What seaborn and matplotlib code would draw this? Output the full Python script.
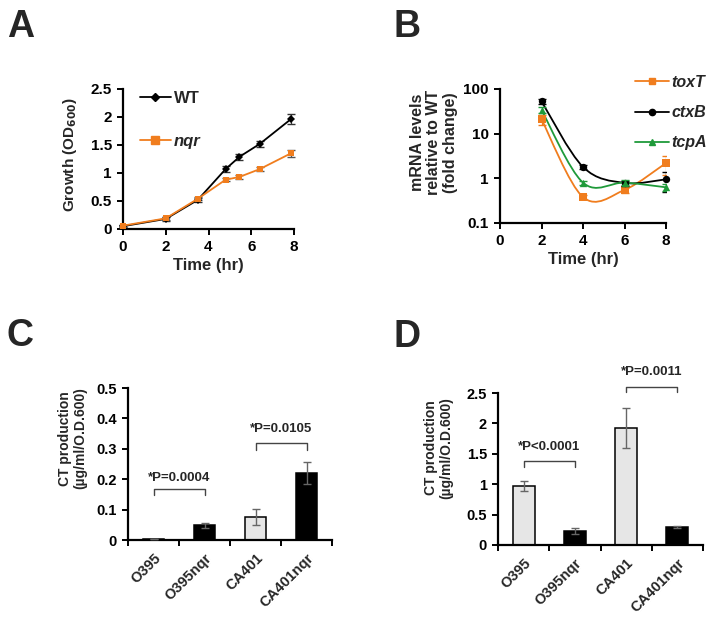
import numpy as np
import matplotlib
matplotlib.use("Agg")
import matplotlib.pyplot as plt
from matplotlib.path import Path
from matplotlib.patches import PathPatch
import pandas as pd
import seaborn as sns

# A: growth curves
growth_time = [0, 2, 3.5, 4.8, 5.45, 6.4, 7.85]
wt_od = [0.05, 0.18, 0.52, 1.07, 1.29, 1.52, 1.96]
wt_err = [0.02, 0.03, 0.03, 0.05, 0.05, 0.05, 0.09]
nqr_od = [0.06, 0.19, 0.54, 0.88, 0.93, 1.07, 1.35]
nqr_err = [0.02, 0.03, 0.03, 0.03, 0.03, 0.04, 0.06]

# B: mRNA fold change
mrna_time = [2, 4, 6, 8]
toxT = [21, 0.38, 0.55, 2.2]
toxT_err = [5, 0.04, 0.08, 1.0]
ctxB = [53, 1.8, 0.79, 0.95]
ctxB_err = [8, 0.2, 0.1, 0.45]
tcpA = [34, 0.8, 0.8, 0.63]
tcpA_err = [5, 0.08, 0.1, 0.12]

# C / D: CT production
strains = ["O395", "O395nqr", "CA401", "CA401nqr"]
ct_c = [0.003, 0.048, 0.075, 0.22]
ct_c_err = [0.001, 0.007, 0.027, 0.037]
ct_d = [0.97, 0.23, 1.93, 0.30]
ct_d_err = [0.09, 0.05, 0.33, 0.02]
c_pvals = ["*P=0.0004", "*P=0.0105"]
d_pvals = ["*P<0.0001", "*P=0.0011"]

ORANGE = "#f07d1e"
GREEN = "#1f9a3a"
GRAY = "#e6e6e6"

sns.set_style("ticks")
plt.rcParams["font.family"] = ["Liberation Sans", "DejaVu Sans"]
plt.rcParams["font.weight"] = "bold"
plt.rcParams["axes.labelweight"] = "bold"

W, H = 714, 623
fig = plt.figure(figsize=(W / 100, H / 100), dpi=100)


def px_axes(l, t, r, b):
    return fig.add_axes([l / W, 1 - b / H, (r - l) / W, (b - t) / H])


def fig_xy(x, y):
    return (x / W, 1 - y / H)


def style(ax, fs=11):
    sns.despine(ax=ax)
    for s in ["left", "bottom"]:
        ax.spines[s].set_linewidth(1.6)
        ax.spines[s].set_color("black")
    ax.tick_params(axis="both", direction="out", length=4, width=1.4,
                   labelsize=fs, colors="black", pad=4)
    for lab in ax.get_xticklabels() + ax.get_yticklabels():
        lab.set_fontweight("bold")


# ---------- A ----------
axA = px_axes(123, 89, 294, 229)
growth = pd.DataFrame({"time": growth_time * 2,
                       "od": wt_od + nqr_od,
                       "strain": ["WT"] * len(wt_od) + ["nqr"] * len(nqr_od)})
sns.lineplot(data=growth, x="time", y="od", hue="strain", style="strain",
             palette={"WT": "black", "nqr": ORANGE},
             markers={"WT": "D", "nqr": "s"}, dashes=False,
             markersize=4.5, markeredgewidth=0, linewidth=1.3, ax=axA,
             legend=False, clip_on=False, zorder=3)
axA.errorbar(growth_time, wt_od, yerr=wt_err, fmt="none", ecolor="#333333",
             elinewidth=0.9, capsize=3, clip_on=False)
axA.errorbar(growth_time, nqr_od, yerr=nqr_err, fmt="none", ecolor="#555555",
             elinewidth=0.9, capsize=3, clip_on=False)
axA.set_xlim(0, 8)
axA.set_ylim(0, 2.5)
axA.set_xticks([0, 2, 4, 6, 8])
axA.set_yticks([0, 0.5, 1, 1.5, 2, 2.5])
axA.set_yticklabels(["0", "0.5", "1", "1.5", "2", "2.5"])
axA.set_xlabel("Time (hr)", fontsize=12, labelpad=3)
axA.set_ylabel("Growth (OD$_\\mathbf{600}$)", fontsize=11)
axA.yaxis.set_label_coords(-0.26, 0.53)
style(axA, 11)
hA = [plt.Line2D([], [], color="black", marker="D", markersize=4.5, lw=1.3),
      plt.Line2D([], [], color=ORANGE, marker="s", markersize=5.5, lw=1.3)]
legA = fig.legend(hA, ["WT", "nqr"], loc="upper left",
                  bbox_to_anchor=fig_xy(140, 91), frameon=False, fontsize=12,
                  borderpad=0, borderaxespad=0, handlelength=1.85,
                  handletextpad=0.2, labelspacing=1.7)
legA.get_texts()[1].set_fontstyle("italic")

# ---------- B ----------
axB = px_axes(500, 89, 666, 223)


def smooth_path(ax, xs, ys, color):
    # Excel-style smoothed line, built in log space
    lx = np.asarray(xs, float)
    ly = np.log10(np.asarray(ys, float))
    pts = np.column_stack([lx, ly])
    p = np.vstack([pts[0], pts, pts[-1]])
    verts = [pts[0]]
    codes = [Path.MOVETO]
    for i in range(1, len(p) - 2):
        c1 = p[i] + (p[i + 1] - p[i - 1]) / 6
        c2 = p[i + 1] - (p[i + 2] - p[i]) / 6
        verts += [c1, c2, p[i + 1]]
        codes += [Path.CURVE4] * 3
    verts = np.array(verts)
    verts[:, 1] = 10 ** verts[:, 1]
    ax.add_patch(PathPatch(Path(verts, codes), fill=False, edgecolor=color,
                           lw=1.3, zorder=2))


genes = [("toxT", toxT, toxT_err, ORANGE, "s"),
         ("ctxB", ctxB, ctxB_err, "black", "o"),
         ("tcpA", tcpA, tcpA_err, GREEN, "^")]
for name, vals, err, col, mk in genes:
    smooth_path(axB, mrna_time, vals, col)
    sns.scatterplot(x=mrna_time, y=vals, color=col, marker=mk, s=28,
                    linewidth=0, ax=axB, zorder=3, clip_on=False)
    axB.errorbar(mrna_time, vals, yerr=err, fmt="none", ecolor=col,
                 elinewidth=0.9, capsize=3, zorder=3)
axB.set_yscale("log")
axB.set_xlim(0, 8)
axB.set_ylim(0.1, 100)
axB.set_xticks([0, 2, 4, 6, 8])
axB.set_yticks([0.1, 1, 10, 100])
axB.set_yticklabels(["0.1", "1", "10", "100"])
axB.minorticks_off()
axB.set_xlabel("Time (hr)", fontsize=12, labelpad=3)
axB.set_ylabel("mRNA levels\nrelative to WT\n(fold change)", fontsize=11.5,
               linespacing=1.1)
axB.yaxis.set_label_coords(-0.255, 0.6)
style(axB, 11)
hB = [plt.Line2D([], [], color=c, marker=m, markersize=4.5, lw=1.3)
      for _, _, _, c, m in genes]
legB = fig.legend(hB, [g[0] for g in genes], loc="upper left",
                  bbox_to_anchor=fig_xy(635, 75), frameon=False,
                  fontsize=11.5, borderpad=0, borderaxespad=0,
                  handlelength=2.1, handletextpad=0.2, labelspacing=0.95)
for t in legB.get_texts():
    t.set_fontstyle("italic")


# ---------- C / D ----------
def bar_panel(ax, vals, errs, ymax, yticks, ylabs, pvals, levels, lab_xy):
    sns.barplot(x=strains, y=vals, hue=strains,
                palette=[GRAY, "black", GRAY, "black"], legend=False,
                edgecolor="black", linewidth=1.1, width=0.43, ax=ax)
    ax.errorbar(range(len(strains)), vals, yerr=errs, fmt="none",
                ecolor="#666666", elinewidth=1.0, capsize=3, zorder=4)
    ax.set_xlim(-0.5, 3.5)
    ax.set_ylim(0, ymax)
    ax.set_yticks(yticks)
    ax.set_yticklabels(ylabs)
    ax.set_xticks(np.arange(-0.5, 4, 1))
    ax.set_xticklabels([])
    ax.set_xticks(range(len(strains)), minor=True)
    ax.set_xticklabels(strains, minor=True, rotation=45, ha="right",
                       rotation_mode="anchor", fontsize=10.5, fontweight="bold")
    ax.tick_params(axis="x", which="minor", length=0, pad=8)
    ax.set_xlabel("")
    ax.set_ylabel("CT production\n(\u00b5g/ml/O.D.600)", fontsize=10,
                  linespacing=1.1)
    ax.yaxis.set_label_coords(*lab_xy)
    style(ax, 10.5)
    for (x0, x1), text, (top, leg, ty) in zip([(0, 1), (2, 3)], pvals, levels):
        ax.plot([x0, x0, x1, x1], [leg, top, top, leg], color="#444444",
                lw=1.0, clip_on=False)
        ax.text((x0 + x1) / 2, ty, text, ha="center", va="center",
                fontsize=9.5, fontweight="bold", clip_on=False)


axC = px_axes(128, 388, 332, 540)
bar_panel(axC, ct_c, ct_c_err, 0.5, [0, 0.1, 0.2, 0.3, 0.4, 0.5],
          ["0", "0.1", "0.2", "0.3", "0.4", "0.5"], c_pvals,
          [(0.168, 0.148, 0.204), (0.318, 0.296, 0.364)], (-0.2, 0.67))

axD = px_axes(498, 393, 703, 545)
bar_panel(axD, ct_d, ct_d_err, 2.5, [0, 0.5, 1, 1.5, 2, 2.5],
          ["0", "0.5", "1", "1.5", "2", "2.5"], d_pvals,
          [(1.38, 1.29, 1.62), (2.60, 2.52, 2.85)], (-0.22, 0.64))

# panel letters
for letter, x, y in [("A", 7, 37), ("B", 393, 37), ("C", 7, 346), ("D", 393, 347)]:
    fig.text(x / W, 1 - y / H, letter, fontsize=27, fontweight="bold",
             ha="left", va="baseline")

fig.savefig("out.png", dpi=100)
